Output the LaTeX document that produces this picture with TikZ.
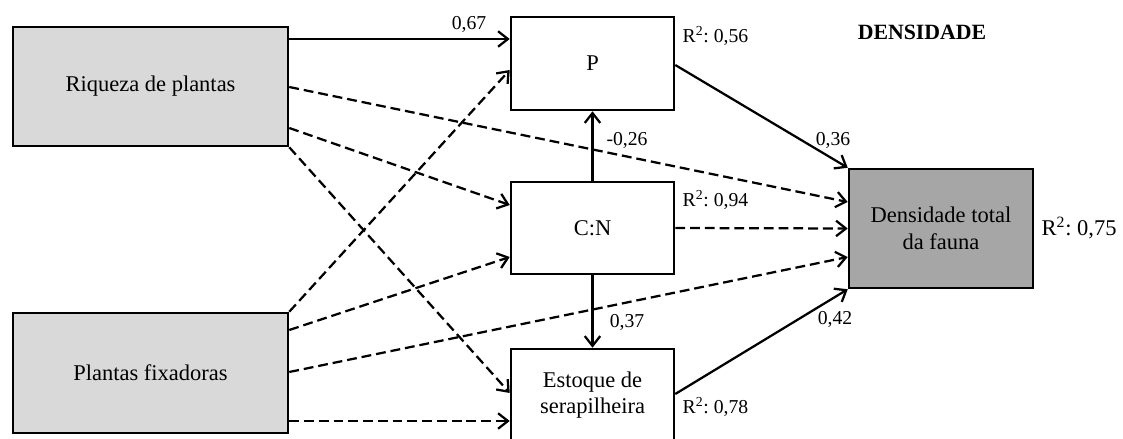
\documentclass[tikz,border=0pt]{standalone}
\usepackage{fontspec}
\setmainfont{Liberation Serif}
\usetikzlibrary{arrows.meta,calc}
\tikzset{>={Straight Barb[length=7pt,width=11pt]}}
\tikzset{
  box/.style={draw,line width=1.8pt,rectangle,align=center,
    font=\fontsize{16}{19}\selectfont},
  coef/.style={font=\fontsize{14}{16}\selectfont,inner sep=1pt},
  path/.style={->,line width=1.6pt},
  nspath/.style={->,line width=1.6pt,dash pattern=on 7pt off 3.5pt}
}
\definecolor{lightgr}{HTML}{D9D9D9}
\definecolor{darkgr}{HTML}{A6A6A6}
\newcommand*{\rsq}[1]{R\textsuperscript{2}:~#1}

\begin{document}
\begin{tikzpicture}[x=0.025cm,y=-0.025cm]
\useasboundingbox (0,0) rectangle (1123,439);

% Exogenous boxes
\node[box,fill=lightgr,minimum width=275*0.025cm,minimum height=119*0.025cm]
  (riq) at (150.5,86.5) {Riqueza de plantas};
\node[box,fill=lightgr,minimum width=275*0.025cm,minimum height=120*0.025cm]
  (fix) at (150.5,373) {Plantas fixadoras};

% Soil boxes
\node[box,minimum width=163*0.025cm,minimum height=93*0.025cm]
  (P) at (592.5,63.5) {P};
\node[box,minimum width=163*0.025cm,minimum height=92*0.025cm]
  (cn) at (592.5,228) {C:N};
\node[box,minimum width=163*0.025cm,minimum height=92*0.025cm]
  (est) at (592.5,395) {Estoque de\\serapilheira};

% Response box
\node[box,fill=darkgr,minimum width=184*0.025cm,minimum height=119*0.025cm]
  (dens) at (941,228.5) {Densidade total\\da fauna};

% R^2 values
\node[coef,anchor=west] (rP) at (681,36) {\rsq{0,56}};
\node[coef,anchor=west] (rcn) at (681,200) {\rsq{0,94}};
\node[coef,anchor=west] (rest) at (681,407) {\rsq{0,78}};
\node[anchor=west,font=\fontsize{16}{19}\selectfont,inner sep=1pt]
  (rdens) at (1040,228) {\rsq{0,75}};

\node[font=\fontsize{15.5}{18}\selectfont\bfseries] (title) at (922,32) {DENSIDADE};

% Paths from plant richness
\draw[path] (riq.east |- 0,39) -- (P.west |- 0,39);
\draw[nspath] (riq.east |- 0,87) -- (dens.west |- 0,202);
\draw[nspath] (riq.east |- 0,128) -- (cn.west |- 0,205);
\draw[nspath] (riq.south east) -- (est.west |- 0,393);

% Paths from fixing plants
\draw[nspath] (fix.north east) -- (P.west |- 0,70);
\draw[nspath] (fix.east |- 0,330) -- (cn.west |- 0,257);
\draw[nspath] (fix.east |- 0,372) -- (dens.west |- 0,257);
\draw[nspath] (fix.east |- 0,421) -- (est.west |- 0,421);

% Paths between soil variables
\draw[path] (cn.north) -- (P.south);
\draw[path] (cn.south) -- (est.north);

% Paths to fauna
\draw[path] (P.east |- 0,65) -- (dens.north west);
\draw[nspath] (cn.east) -- (dens.west);
\draw[path] (est.east |- 0,394) -- (dens.south west);

% Coefficients
\node[coef] (c1) at (469,24) {0,67};
\node[coef] (c2) at (627,140) {-0,26};
\node[coef] (c3) at (627,322) {0,37};
\node[coef] (c4) at (833,140) {0,36};
\node[coef] (c5) at (835,319) {0,42};

\end{tikzpicture}
\end{document}
